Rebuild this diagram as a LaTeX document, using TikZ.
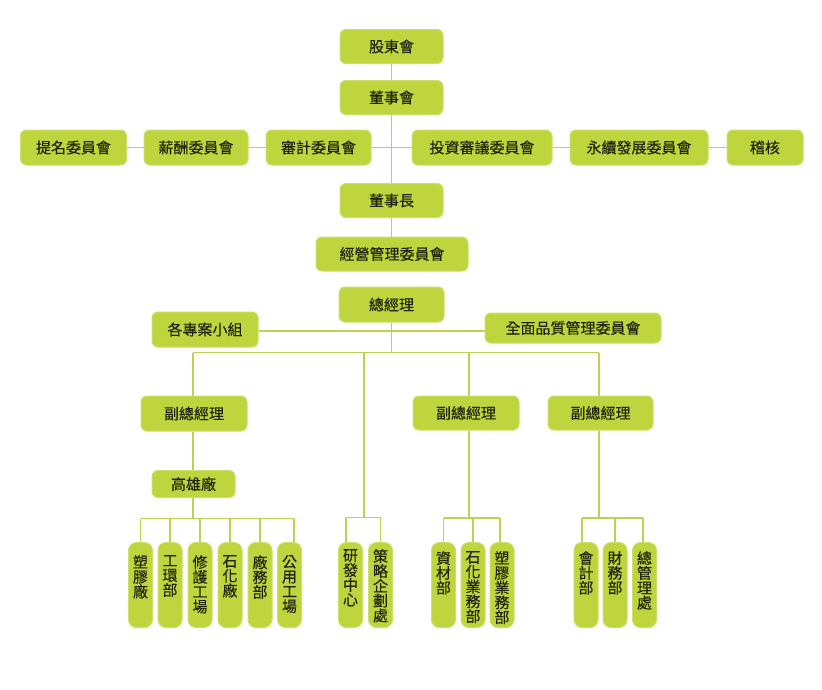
\documentclass[tikz,border=0pt]{standalone}
\usepackage{fontspec}
\usetikzlibrary{backgrounds}
\newfontfamily\cjk[FakeBold=0.35]{Noto Sans CJK TC}
\definecolor{boxfill}{RGB}{190,213,62}
\definecolor{boxedge}{RGB}{204,223,104}
\definecolor{linecol}{RGB}{188,210,80}
\definecolor{txt}{RGB}{34,36,14}
\tikzset{
  hbox/.style={draw=boxedge, line width=1pt, fill=boxfill, rounded corners=6pt, inner sep=0pt,
    text=txt, font=\cjk\fontsize{15}{16}\selectfont, minimum height=34pt},
  vbox/.style={draw=boxedge, line width=1pt, fill=boxfill, rounded corners=8pt, inner sep=0pt,
    minimum width=24pt, minimum height=85pt},
  vtext/.style={anchor=north, inner sep=0pt, align=center, text=txt,
    font=\cjk\fontsize{15}{14.8}\selectfont},
  conn/.style={draw=linecol, line width=1.6pt},
}
\begin{document}
\begin{tikzpicture}[x=1pt,y=-1pt]
\useasboundingbox (0,0) rectangle (822,689);

% boxes
\node[hbox, minimum width=103pt] (gd) at (391.5,46.5) {股東會};
\node[hbox, minimum width=103pt] (bd) at (391.5,97.5) {董事會};
\node[hbox, minimum width=106pt, minimum height=35pt] (nom) at (73.5,147.5) {提名委員會};
\node[hbox, minimum width=104pt, minimum height=35pt] (pay) at (196,147.5) {薪酬委員會};
\node[hbox, minimum width=105pt, minimum height=35pt] (aud) at (318.5,147.5) {審計委員會};
\node[hbox, minimum width=140pt, minimum height=35pt] (inv) at (482,147.5) {投資審議委員會};
\node[hbox, minimum width=138pt, minimum height=35pt] (sus) at (639,147.5) {永續發展委員會};
\node[hbox, minimum width=76pt, minimum height=35pt] (chk) at (765,147.5) {稽核};
\node[hbox, minimum width=103pt] (chair) at (391.5,200.5) {董事長};
\node[hbox, minimum width=152pt] (mgmt) at (392,254) {經營管理委員會};
\node[hbox, minimum width=105pt, minimum height=35pt] (gm) at (391.5,304.5) {總經理};
\node[hbox, minimum width=106pt, minimum height=35pt] (proj) at (205,329.5) {各專案小組};
\node[hbox, minimum width=176pt, minimum height=30pt] (tqm) at (573,328) {全面品質管理委員會};
\node[hbox, minimum width=106pt, minimum height=35pt] (vp1) at (194,413.5) {副總經理};
\node[hbox, minimum width=106pt] (vp2) at (466,413) {副總經理};
\node[hbox, minimum width=105pt] (vp3) at (600.5,413) {副總經理};
\node[hbox, minimum width=83pt, minimum height=27pt] (khp) at (193.5,484) {高雄廠};

% vertical boxes
\foreach \name/\cx/\off/\t in {
  v1/140.5/13/塑\\膠\\廠, v2/170/13/工\\環\\部, v3/200/13/修\\護\\工\\場,
  v4/230/13/石\\化\\廠, v5/260/13/廠\\務\\部, v6/289.5/13/公\\用\\工\\場,
  v7/350.5/7/研\\發\\中\\心, v8/380.5/7/策\\略\\企\\劃\\處,
  v9/443.5/9/資\\材\\部, v10/473/9/石\\化\\業\\務\\部, v11/502/9/塑\\膠\\業\\務\\部,
  v12/586/9/會\\計\\部, v13/615/9/財\\務\\部, v14/644.5/9/總\\管\\理\\處}{
  \node[vbox] (\name) at (\cx,585) {};
  \node[vtext] (\name t) at ([yshift=-\off pt]\name.north) {\t};
}

% junction coordinates
\coordinate (pline) at (0,331);
\coordinate (jL) at (193,352.5);
\coordinate (jR) at (599,352.5);
\coordinate (jM2) at (469,352.5);
\coordinate (rd) at (364,352.5);
\coordinate (bar1) at (0,518.5);
\coordinate (bar2) at (0,517.5);
\coordinate (bar3) at (0,518);

\begin{scope}[on background layer]
\draw[conn] (gd) -- (bd);
\draw[conn] (bd) -- (chair);
\draw[conn] (nom) -- (pay);
\draw[conn] (pay) -- (aud);
\draw[conn] (aud) -- (inv);
\draw[conn] (inv) -- (sus);
\draw[conn] (sus) -- (chk);
\draw[conn] (chair) -- (chair |- mgmt.north);
\draw[conn] (mgmt) -- (mgmt.south -| gm);
\draw[conn] (gm) -- (gm |- jL);
\draw[conn] (proj.east |- pline) -- (tqm.west |- pline);
\draw[conn] (jL) -- (jR);
\draw[conn] (jL) -- (jL |- vp1.north);
\draw[conn] (jM2) -- (jM2 |- vp2.north);
\draw[conn] (jR) -- (jR |- vp3.north);
% Kaohsiung group
\draw[conn] (jL |- vp1.south) -- (jL |- khp.north);
\draw[conn] (jL |- khp.south) -- (jL |- bar1);
\draw[conn] (v1.north |- bar1) -- ([xshift=4.5pt]v6.north |- bar1);
\foreach \n in {v1,v2,v3,v4,v5} \draw[conn] (\n.north |- bar1) -- (\n.north);
\draw[conn] ([xshift=4.5pt]v6.north |- bar1) -- ([xshift=4.5pt]v6.north);
% R&D group
\draw[conn] (rd) -- (rd |- bar2);
\draw[conn] ([xshift=-4.5pt]v7.north |- bar2) -- (v8.north |- bar2);
\draw[conn] ([xshift=-4.5pt]v7.north |- bar2) -- ([xshift=-4.5pt]v7.north);
\draw[conn] (v8.north |- bar2) -- (v8.north);
% second VP group
\draw[conn] (jM2 |- vp2.south) -- (jM2 |- bar3);
\draw[conn] (v9.north |- bar3) -- ([xshift=-2pt]v11.north |- bar3);
\draw[conn] (v9.north |- bar3) -- (v9.north);
\draw[conn] (v10.north |- bar3) -- (v10.north);
\draw[conn] ([xshift=-2pt]v11.north |- bar3) -- ([xshift=-2pt]v11.north);
% third VP group
\draw[conn] (jR |- vp3.south) -- (jR |- bar3);
\draw[conn] ([xshift=-4pt]v12.north |- bar3) -- ([xshift=-1.5pt]v14.north |- bar3);
\draw[conn] ([xshift=-4pt]v12.north |- bar3) -- ([xshift=-4pt]v12.north);
\draw[conn] (v13.north |- bar3) -- (v13.north);
\draw[conn] ([xshift=-1.5pt]v14.north |- bar3) -- ([xshift=-1.5pt]v14.north);
\end{scope}
\end{tikzpicture}
\end{document}
